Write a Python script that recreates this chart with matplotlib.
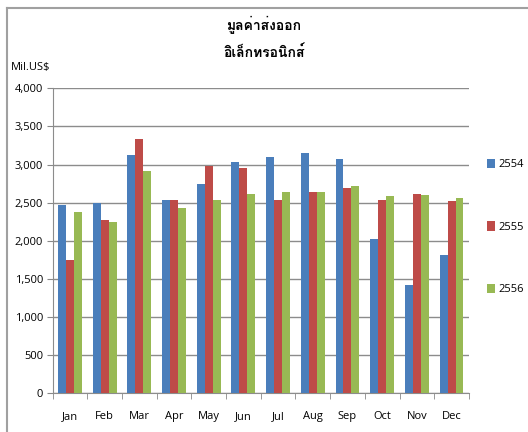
import matplotlib
matplotlib.use("Agg")
import matplotlib.pyplot as plt
from matplotlib import font_manager
from matplotlib.lines import Line2D
import numpy as np

months = ["Jan", "Feb", "Mar", "Apr", "May", "Jun", "Jul", "Aug", "Sep", "Oct", "Nov", "Dec"]
v2554 = [2470, 2500, 3125, 2535, 2745, 3034, 3095, 3156, 3077, 2028, 1416, 1818]
v2555 = [1748, 2273, 3339, 2535, 2981, 2959, 2535, 2644, 2689, 2535, 2610, 2526]
v2556 = [2382, 2251, 2920, 2426, 2535, 2610, 2640, 2640, 2719, 2584, 2605, 2566]
series_names = ["2554", "2555", "2556"]
colors = ["#4a7ebb", "#be4b48", "#98b954"]
title_lines = ["มูลค่าส่งออก", "อิเล็กทรอนิกส์"]
y_label = "Mil.US$"


def find_thai_font():
    from matplotlib.ft2font import FT2Font
    for f in font_manager.fontManager.ttflist:
        try:
            cm = FT2Font(f.fname).get_charmap()
            if 0x0E01 in cm and 0x0E2D in cm:
                return f.name
        except Exception:
            pass
    return None


thai = find_thai_font()
title_family = [thai, "DejaVu Sans"] if thai else ["DejaVu Sans"]

plt.rcParams["font.family"] = ["Open Sans", "DejaVu Sans"]

fig = plt.figure(figsize=(5.28, 4.32), dpi=100)
ax = fig.add_axes([0.0998, 0.0896, 0.888 - 0.0998, 0.7956 - 0.0896])

x = np.arange(len(months))
w = 0.23
for i, (vals, c, n) in enumerate(zip([v2554, v2555, v2556], colors, series_names)):
    ax.bar(x + (i - 1) * w, vals, width=w, color=c, label=n, zorder=3)

ax.set_xlim(-0.5, len(months) - 0.5)
ax.set_ylim(0, 4000)
ax.set_yticks(np.arange(0, 4001, 500))
ax.set_yticklabels([f"{v:,}" for v in range(0, 4001, 500)])
ax.set_xticks(x)
ax.set_xticklabels(months)
ax.set_xticks(np.arange(-0.5, len(months), 1), minor=True)
ax.tick_params(axis="x", which="major", length=0, pad=13, labelsize=8)
ax.tick_params(axis="x", which="minor", length=4, color="#888888")
ax.tick_params(axis="y", length=4, color="#888888", labelsize=8, pad=3)
ax.grid(axis="y", color="#8c8c8c", linewidth=1.0, zorder=0)
for s in ["top", "right"]:
    ax.spines[s].set_visible(False)
ax.spines["left"].set_color("#8c8c8c")
ax.spines["bottom"].set_color("#8c8c8c")

fig.text(0.057, 0.843, y_label, fontsize=8, ha="center", va="center")
fig.text(0.5, 0.942, title_lines[0], fontsize=10, fontweight="bold", ha="center", va="center", family=title_family)
fig.text(0.5, 0.877, title_lines[1], fontsize=10, fontweight="bold", ha="center", va="center", family=title_family)

leg = ax.legend(loc="center left", bbox_to_anchor=(1.02, 0.545), frameon=False, fontsize=8,
                handlelength=0.7, handleheight=0.9, handletextpad=0.3, labelspacing=4.6)

# outer chart border (top and left)
fig.add_artist(Line2D([0.013, 1.0], [1 - 8 / 432, 1 - 8 / 432], color="#a0a0a0", linewidth=1.5, transform=fig.transFigure))
fig.add_artist(Line2D([0.013, 0.013], [0.0, 1 - 8 / 432], color="#a0a0a0", linewidth=1.5, transform=fig.transFigure))

fig.savefig("out.png", dpi=100)
